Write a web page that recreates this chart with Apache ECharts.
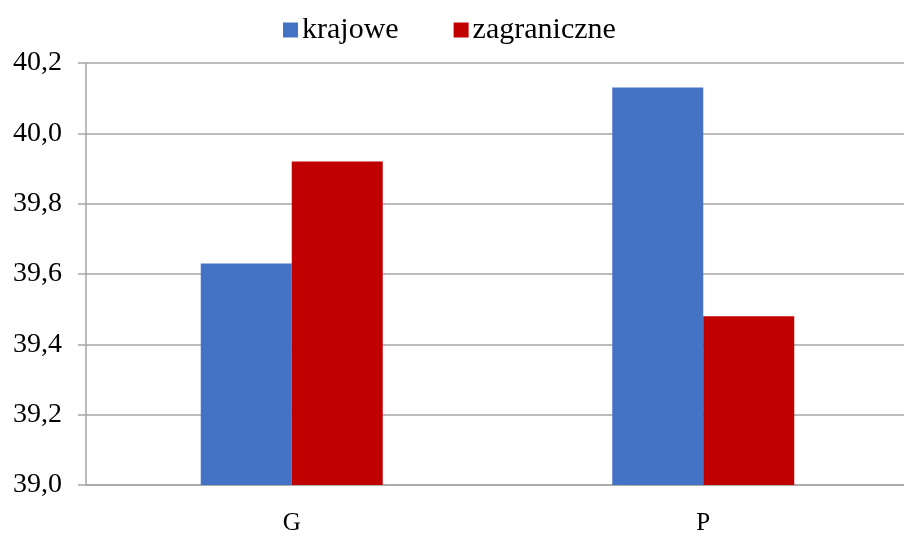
<!DOCTYPE html>
<html>
<head>
<meta charset="utf-8">
<script src="https://cdn.jsdelivr.net/npm/echarts@6/dist/echarts.min.js"></script>
<style>
html,body{margin:0;padding:0;background:#fff;overflow:hidden;width:904px;height:536px;}
#chart{width:910px;height:536px;}
</style>
</head>
<body>
<div id="chart"></div>
<script>
const categories = ['G', 'P'];
const seriesNames = ['krajowe', 'zagraniczne'];
const krajowe = [39.63, 40.13];
const zagraniczne = [39.92, 39.48];
const yTicks = { min: 39.0, max: 40.2, interval: 0.2 };

const chart = echarts.init(document.getElementById('chart'), null, { renderer: 'canvas' });
const font = '"Liberation Serif", "Times New Roman", serif';
chart.setOption({
  animation: false,
  backgroundColor: '#ffffff',
  legend: {
    top: 10,
    left: 278,
    itemWidth: 15,
    itemHeight: 15,
    itemGap: 55,
    icon: 'rect',
    textStyle: { fontFamily: font, fontSize: 30, color: '#000', padding: [0, 0, 0, -1] },
    data: seriesNames
  },
  grid: { left: 86, right: 1, top: 63, bottom: 51, containLabel: false },
  xAxis: {
    type: 'category',
    data: categories,
    axisLine: { show: true, lineStyle: { color: '#a6a6a6', width: 1.5 } },
    axisTick: { show: false },
    axisLabel: { fontFamily: font, fontSize: 25, color: '#000', margin: 26 }
  },
  yAxis: {
    type: 'value',
    min: yTicks.min,
    max: yTicks.max,
    interval: yTicks.interval,
    axisLine: { show: true, lineStyle: { color: '#a6a6a6', width: 1.5 } },
    axisTick: { show: true, length: 8, lineStyle: { color: '#a6a6a6', width: 1.5 } },
    splitLine: { show: true, lineStyle: { color: '#a6a6a6', width: 1.5 } },
    axisLabel: {
      fontFamily: font, fontSize: 28, color: '#000', margin: 24,
      formatter: v => v.toFixed(1).replace('.', ',')
    }
  },
  series: [
    { name: seriesNames[0], type: 'bar', data: krajowe, barWidth: 91, barGap: '0%', itemStyle: { color: '#4472C4' } },
    { name: seriesNames[1], type: 'bar', data: zagraniczne, barWidth: 91, barGap: '0%', itemStyle: { color: '#C00000' } }
  ]
});
</script>
</body>
</html>
